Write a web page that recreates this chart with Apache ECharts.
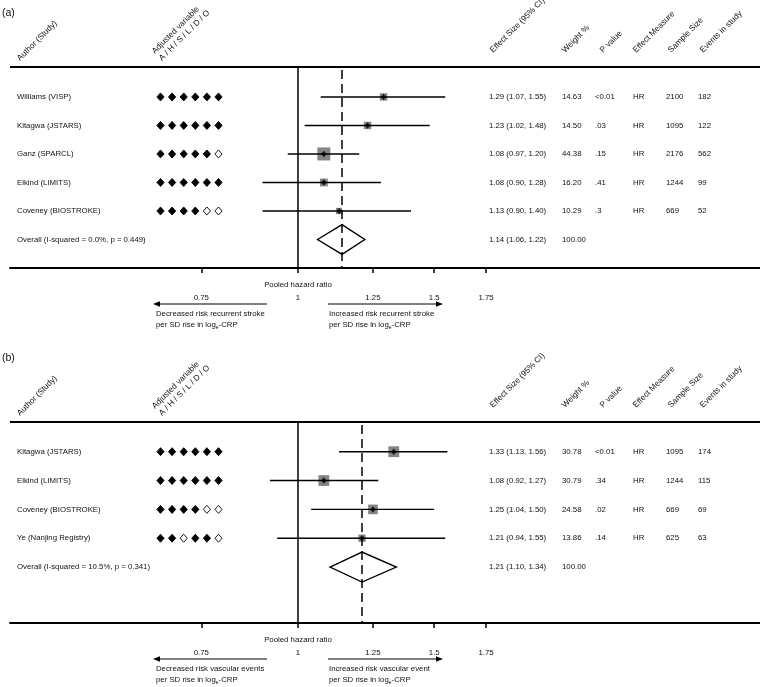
<!DOCTYPE html>
<html>
<head>
<meta charset="utf-8">
<script src="https://cdn.jsdelivr.net/npm/echarts@6/dist/echarts.min.js"></script>
<style>
html, body { margin: 0; padding: 0; background: #fff; }
#chart { width: 760px; height: 687px; }
</style>
</head>
<body>
<div id="chart"></div>
<script>
// ---- panel (a): recurrent stroke ----
const authorsA = ['Williams (VISP)', 'Kitagwa (JSTARS)', 'Ganz (SPARCL)', 'Elkind (LIMITS)', 'Coveney (BIOSTROKE)'];
const hrA = [1.29, 1.23, 1.08, 1.08, 1.13];
const loA = [1.07, 1.02, 0.97, 0.90, 0.90];
const hiA = [1.55, 1.48, 1.20, 1.28, 1.40];
const weightA = [14.63, 14.50, 44.38, 16.20, 10.29];
const pA = ['<0.01', '.03', '.15', '.41', '.3'];
const measureA = ['HR', 'HR', 'HR', 'HR', 'HR'];
const sizeA = [2100, 1095, 2176, 1244, 669];
const eventsA = [182, 122, 562, 99, 52];
const adjustA = ['111111', '111111', '111110', '111111', '111100'];
const overallA = [1.14, 1.06, 1.22];
const overallLabelA = 'Overall (I-squared = 0.0%, p = 0.449)';

// ---- panel (b): vascular events ----
const authorsB = ['Kitagwa (JSTARS)', 'Elkind (LIMITS)', 'Coveney (BIOSTROKE)', 'Ye (Nanjing Registry)'];
const hrB = [1.33, 1.08, 1.25, 1.21];
const loB = [1.13, 0.92, 1.04, 0.94];
const hiB = [1.56, 1.27, 1.50, 1.55];
const weightB = [30.78, 30.79, 24.58, 13.86];
const pB = ['<0.01', '.34', '.02', '.14'];
const measureB = ['HR', 'HR', 'HR', 'HR'];
const sizeB = [1095, 1244, 669, 625];
const eventsB = [174, 115, 69, 63];
const adjustB = ['111111', '111111', '111100', '110110'];
const overallB = [1.21, 1.10, 1.34];
const overallLabelB = 'Overall (I-squared = 10.5%, p = 0.341)';

const tickValues = [0.75, 1, 1.25, 1.5, 1.75];
const headers = ['Effect Size (95% CI)', 'Weight %', 'P value', 'Effect Measure', 'Sample Size', 'Events in study'];

const FONT = '"Liberation Sans", Arial, Helvetica, sans-serif';
const INK = '#111';
const FS = 7.8;
const COL = { author: 17, adj: 160.5, es: 489, w: 562, p: 595, m: 633, n: 666, ev: 698 };
const HEAD_X = [495, 567, 605, 638, 673, 705];

const panels = [
  {
    tag: '(a)', tagY: 13, top: 67, yMin: -1.05, yMax: 6.0,
    authors: authorsA, hr: hrA, lo: loA, hi: hiA, weight: weightA, p: pA, measure: measureA,
    size: sizeA, events: eventsA, adjust: adjustA, overall: overallA, overallLabel: overallLabelA,
    leftText: 'Decreased risk recurrent stroke', rightText: 'Increased risk recurrent stroke'
  },
  {
    tag: '(b)', tagY: 358, top: 422, yMin: -1.03, yMax: 5.94,
    authors: authorsB, hr: hrB, lo: loB, hi: hiB, weight: weightB, p: pB, measure: measureB,
    size: sizeB, events: eventsB, adjust: adjustB, overall: overallB, overallLabel: overallLabelB,
    leftText: 'Decreased risk vascular events', rightText: 'Increased risk vascular event'
  }
];

const ln = Math.log;
const txt = (x, y, s, extra) => ({
  type: 'text', x: x, y: y,
  style: Object.assign({ text: s, fill: INK, fontSize: FS, fontFamily: FONT, align: 'left', verticalAlign: 'middle' }, extra || {})
});
const ci = (h, l, u) => h.toFixed(2) + ' (' + l.toFixed(2) + ', ' + u.toFixed(2) + ')';

function tableItem(pd) {
  return function (params, api) {
    const i = api.value(1);
    const y = api.coord([0, i])[1];
    const kids = [];
    if (i < pd.authors.length) {
      kids.push(txt(COL.author, y, pd.authors[i]));
      pd.adjust[i].split('').forEach(function (c, k) {
        const cx = COL.adj + k * 11.6;
        kids.push({
          type: 'polygon',
          shape: { points: [[cx - 3.6, y], [cx, y - 4], [cx + 3.6, y], [cx, y + 4]] },
          style: { fill: c === '1' ? '#000' : '#fff', stroke: '#000', lineWidth: 0.9 }
        });
      });
      kids.push(txt(COL.es, y, ci(pd.hr[i], pd.lo[i], pd.hi[i])));
      kids.push(txt(COL.w, y, pd.weight[i].toFixed(2)));
      kids.push(txt(COL.p, y, pd.p[i]));
      kids.push(txt(COL.m, y, pd.measure[i]));
      kids.push(txt(COL.n, y, String(pd.size[i])));
      kids.push(txt(COL.ev, y, String(pd.events[i])));
    } else {
      kids.push(txt(COL.author, y, pd.overallLabel));
      kids.push(txt(COL.es, y, ci(pd.overall[0], pd.overall[1], pd.overall[2])));
      kids.push(txt(COL.w, y, '100.00'));
    }
    return { type: 'group', children: kids };
  };
}

function studyItem(params, api) {
  const row = api.value(2);
  const a = api.coord([api.value(0), row]);
  const b = api.coord([api.value(1), row]);
  const c = api.coord([api.value(3), row]);
  const s = 1.95 * Math.sqrt(api.value(4));
  return {
    type: 'group',
    children: [
      { type: 'rect', shape: { x: c[0] - s / 2, y: c[1] - s / 2, width: s, height: s }, style: { fill: '#858585' } },
      { type: 'line', shape: { x1: a[0], y1: a[1], x2: b[0], y2: b[1] }, style: { stroke: '#000', lineWidth: 1.4 } }
    ]
  };
}

function diamondItem(params, api) {
  const row = api.value(3);
  const l = api.coord([api.value(0), row]);
  const t = api.coord([api.value(1), row - 0.52]);
  const r = api.coord([api.value(2), row]);
  const bt = api.coord([api.value(1), row + 0.52]);
  return {
    type: 'polygon',
    shape: { points: [l, t, r, bt] },
    style: { fill: 'none', stroke: '#000', lineWidth: 1.4 }
  };
}

function annotationItem(pd) {
  return function (params, api) {
    const o = api.coord([api.value(0), api.value(1)]);
    const x = o[0], y = o[1];
    const sub = { rich: { s: { fontSize: 5, fontFamily: FONT, fill: INK, verticalAlign: 'bottom', padding: [5, 0, 0, 0] } } };
    const arrow = function (tail, head) {
      const d = head > tail ? -1 : 1;
      return [
        { type: 'line', shape: { x1: tail, y1: y + 36, x2: head + d * 5, y2: y + 36 }, style: { stroke: '#000', lineWidth: 1 } },
        { type: 'polygon', shape: { points: [[head, y + 36], [head + d * 7, y + 33.3], [head + d * 7, y + 38.7]] }, style: { fill: '#000' } }
      ];
    };
    return {
      type: 'group',
      children: [
        txt(x, y + 16.5, 'Pooled hazard ratio', { align: 'center' }),
        txt(x - 142, y + 46, pd.leftText),
        txt(x - 142, y + 57, 'per SD rise in log{s|e}-CRP', sub),
        txt(x + 31, y + 46, pd.rightText),
        txt(x + 31, y + 57, 'per SD rise in log{s|e}-CRP', sub)
      ].concat(arrow(x - 31, x - 145), arrow(x + 30, x + 145))
    };
  };
}

const grids = [], xAxes = [], yAxes = [], series = [], graphics = [];

panels.forEach(function (pd, k) {
  grids.push({ left: 10, right: 0, top: pd.top, height: 201 });
  xAxes.push({
    type: 'value', gridIndex: k, min: -0.857, max: 1.375,
    axisLine: { onZero: false, lineStyle: { color: '#000', width: 1.8 } },
    axisTick: { customValues: tickValues.map(ln), length: 5, lineStyle: { color: '#000', width: 1.5 } },
    axisLabel: {
      customValues: tickValues.map(ln), margin: 26, color: INK, fontSize: FS, fontFamily: FONT,
      formatter: function (v) { return String(parseFloat(Math.exp(v).toFixed(2))); }
    },
    splitLine: { show: false }
  });
  yAxes.push({ type: 'value', gridIndex: k, inverse: true, min: pd.yMin, max: pd.yMax, show: false });

  const n = pd.authors.length;
  const rows = pd.authors.map(function (_, i) { return i; });

  series.push({
    type: 'custom', name: 'studies' + k, xAxisIndex: k, yAxisIndex: k,
    encode: { x: [0, 1, 3], y: 2 },
    data: rows.map(function (i) { return [ln(pd.lo[i]), ln(pd.hi[i]), i, ln(pd.hr[i]), pd.weight[i]]; }),
    renderItem: studyItem
  });
  series.push({
    type: 'scatter', name: 'points' + k, xAxisIndex: k, yAxisIndex: k,
    symbol: 'diamond', symbolSize: [5.5, 6.5], itemStyle: { color: '#000' },
    data: rows.map(function (i) { return [ln(pd.hr[i]), i]; }),
    markLine: {
      silent: true, symbol: ['none', 'none'], label: { show: false }, animation: false,
      data: [
        { xAxis: 0, lineStyle: { color: '#000', width: 1.5, type: 'solid' } },
        { xAxis: ln(pd.overall[0]), lineStyle: { color: '#000', width: 1.5, type: [9, 5], dashOffset: -3 } },
        { yAxis: pd.yMin, lineStyle: { color: '#000', width: 1.8, type: 'solid' } }
      ]
    }
  });
  series.push({
    type: 'custom', name: 'overall' + k, xAxisIndex: k, yAxisIndex: k,
    encode: { x: [0, 1, 2], y: 3 },
    data: [[ln(pd.overall[1]), ln(pd.overall[0]), ln(pd.overall[2]), n]],
    renderItem: diamondItem
  });
  series.push({
    type: 'custom', name: 'table' + k, xAxisIndex: k, yAxisIndex: k,
    data: rows.concat([n]).map(function (i) { return [0, i]; }),
    renderItem: tableItem(pd)
  });
  series.push({
    type: 'custom', name: 'notes' + k, xAxisIndex: k, yAxisIndex: k,
    data: [[0, pd.yMax]],
    renderItem: annotationItem(pd)
  });

  // rotated column headers and panel tag
  graphics.push({ type: 'text', x: 2, y: pd.tagY, style: { text: pd.tag, fill: INK, fontSize: 10.5, fontFamily: FONT, align: 'left', verticalAlign: 'middle' } });
  const rot = function (x, y, s) {
    return { type: 'text', x: x, y: y, rotation: Math.PI / 4, style: { text: s, fill: INK, fontSize: 8.2, lineHeight: 10, fontFamily: FONT, align: 'left', verticalAlign: 'bottom' } };
  };
  graphics.push(rot(22, pd.top - 4, 'Author (Study)'));
  graphics.push(rot(164, pd.top - 4, 'Adjusted variable\nA / H / S / L / D / O'));
  headers.forEach(function (h, j) { graphics.push(rot(HEAD_X[j], pd.top - 12, h)); });
});

const chart = echarts.init(document.getElementById('chart'));
chart.setOption({
  animation: false,
  backgroundColor: '#fff',
  grid: grids,
  xAxis: xAxes,
  yAxis: yAxes,
  graphic: graphics,
  series: series
});
</script>
</body>
</html>
